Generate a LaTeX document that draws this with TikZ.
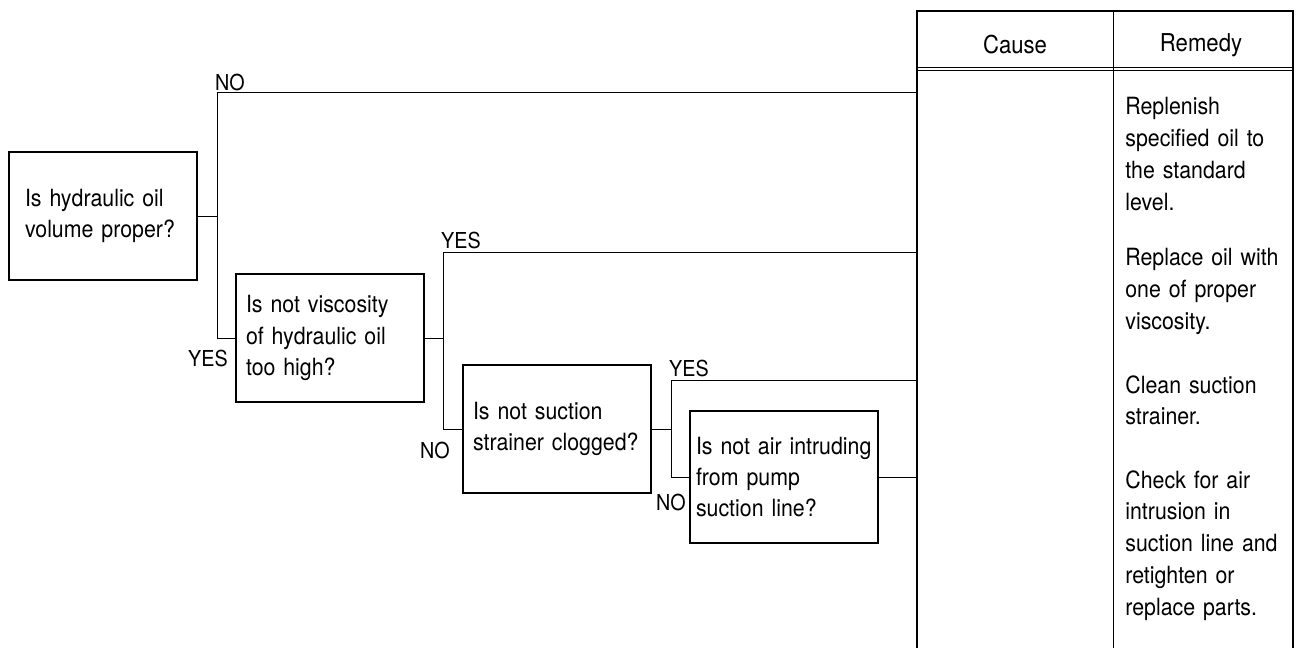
\documentclass[tikz,border=0pt]{standalone}
\usepackage{fontspec}
\setmainfont{TeX Gyre Heros}[FakeStretch=0.9]
\usepackage{tikz}

\begin{document}
\begin{tikzpicture}[x=0.02cm, y=-0.02cm,
  question/.style={draw, line width=0.9pt, text width=3.36cm, inner xsep=0.2cm, inner ysep=0pt,
    align=left, minimum height=2.56cm, font=\fontsize{13.5}{17.8}\selectfont},
  answer/.style={inner sep=0pt, font=\fontsize{12.5}{15}\selectfont},
  head/.style={inner sep=0pt, font=\fontsize{14}{16}\selectfont},
  remedy/.style={anchor=base west, text width=3.5cm, align=left, inner sep=0pt,
    font=\fontsize{13.5}{18.2}\selectfont},
  link/.style={line width=0.55pt},
  frame/.style={line width=0.9pt}]
\useasboundingbox (0,0) rectangle (1300,648);
% ---- table: Cause | Remedy, open at the foot of the page ----
\draw[frame] (917,648) |- (1293,11) -- (1293,648);
\draw[link] (1113,11) -- (1113,648);
\draw[link] (917,67) -- (1293,67);
\draw[link] (917,70.5) -- (1293,70.5);
\node[head] (cause) at (1015,45) {Cause};
\node[head] (remedy) at (1201,45) {Remedy};
% rows of the Cause column, where the branches come in
\coordinate (c1) at (917,92);
\coordinate (c2) at (917,252);
\coordinate (c3) at (917,380);
\coordinate (c4) at (917,477);
% ---- the questions ----
\node[question] (q1) at (103,216) {\hspace*{0.12cm}Is hydraulic oil\\ \hspace*{0.12cm}volume proper?};
\node[question] (q2) at (330,338) {Is not viscosity\\ of hydraulic oil\\ too high?};
\node[question] (q3) at (557,429) {Is not suction\\ strainer clogged?};
\node[question, minimum height=2.64cm, text width=3.52cm, inner xsep=0.12cm] (q4) at (784,477)
  {\mbox{Is not air intruding}\\ from pump\\ suction line?};
% ---- branches ----
\draw[link] (q1.east) -- ++(20,0) coordinate (j1);
\draw[link] (q2.west) -| (j1) |- (c1);
\draw[link] (q2.east) -- ++(19,0) coordinate (j2);
\draw[link] (q3.west) -| (j2) |- (c2);
\draw[link] (q3.east) -- ++(20,0) coordinate (j3);
\draw[link] (q4.west) -| (j3) |- (c3);
\draw[link] (q4.east) -- (c4);
\node[answer] (no1) at (230,82) {NO};
\node[answer] (yes1) at (208,358) {YES};
\node[answer] (yes2) at (461,240) {YES};
\node[answer] (no2) at (435,450) {NO};
\node[answer] (yes3) at (689,368) {YES};
\node[answer] (no3) at (671,502) {NO};
% ---- remedies ----
\node[remedy] (rem1) at (1125,115) {Replenish\\ specified oil to\\ the standard\\ level.};
\node[remedy] (rem2) at (1125,266) {Replace oil with\\ one of proper\\ viscosity.};
\node[remedy] (rem3) at (1125,393) {Clean suction\\ strainer.};
\node[remedy] (rem4) at (1125,488) {Check for air\\ intrusion in\\ suction line and\\ retighten or\\ replace parts.};
\end{tikzpicture}
\end{document}
